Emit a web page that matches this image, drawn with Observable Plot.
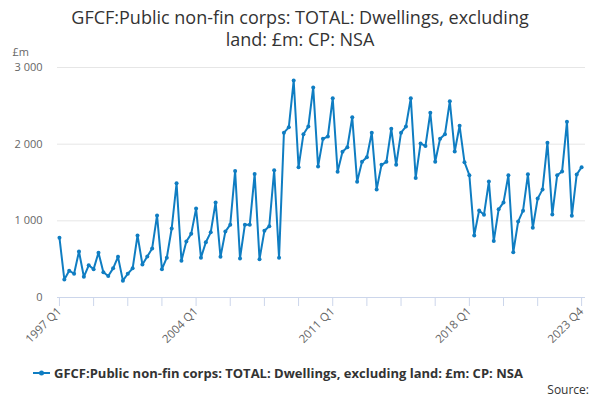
<!DOCTYPE html>
<html>
<head>
<meta charset="utf-8">
<script src="https://cdn.jsdelivr.net/npm/d3@7"></script>
<script src="https://cdn.jsdelivr.net/npm/@observablehq/plot@0.6"></script>
<style>
  body { margin: 0; background: #fff; font-family: "Open Sans", sans-serif; }
  #wrap { position: relative; width: 600px; height: 400px; overflow: hidden; }
  #title { position: absolute; left: 0; top: 6px; width: 600px; text-align: center; font-size: 18px; line-height: 22px; color: #333; }
  #chart { position: absolute; left: 0; top: 40px; }
  #legend { position: absolute; left: 33px; top: 365px; height: 16px; display: flex; align-items: center; font-size: 13px; font-weight: bold; color: #333; white-space: nowrap; }
  #legend svg { margin-right: 4px; }
  #source { position: absolute; right: 11px; top: 382px; font-size: 12px; line-height: 16px; color: #333; }
</style>
</head>
<body>
<div id="wrap">
  <div id="title">GFCF:Public non-fin corps: TOTAL: Dwellings, excluding<br>land: £m: CP: NSA</div>
  <div id="chart"></div>
  <div id="legend"><svg width="17" height="10"><line x1="0" x2="17" y1="5" y2="5" stroke="#0f7dc2" stroke-width="2"></line><circle cx="8.5" cy="5" r="2.5" fill="#0f7dc2"></circle></svg><span>GFCF:Public non-fin corps: TOTAL: Dwellings, excluding land: £m: CP: NSA</span></div>
  <div id="source">Source:</div>
</div>
<script>
const startYear = 1997;
const values = [
  780, 235, 350, 310,
  600, 270, 420, 370,
  585, 330, 280, 380,
  530, 220, 310, 380,
  810, 430, 535, 640,
  1070, 370, 520, 900,
  1490, 480, 730, 830,
  1160, 520, 720, 850,
  1240, 530, 860, 950,
  1650, 510, 950, 950,
  1610, 500, 870, 930,
  1660, 520, 2150, 2220,
  2830, 1700, 2130, 2230,
  2740, 1710, 2070, 2100,
  2600, 1640, 1900, 1960,
  2350, 1510, 1770, 1830,
  2150, 1410, 1730, 1770,
  2200, 1730, 2150, 2230,
  2600, 1560, 2010, 1975,
  2410, 1770, 2070, 2130,
  2560, 1905, 2240, 1765,
  1595, 810, 1135, 1080,
  1512, 737, 1150, 1240,
  1595, 590, 990, 1133,
  1607, 910, 1290, 1410,
  2020, 1083, 1595, 1643,
  2292, 1065, 1605, 1700
];
const quarterLabels = values.map((v, i) => `${startYear + Math.floor(i / 4)} Q${(i % 4) + 1}`);
const tickIndices = [0, 7, 14, 21, 28, 35, 42, 49, 56, 63, 70, 77, 84, 91, 98, 107];
const labelledTicks = [0, 28, 56, 84, 107];
const yTicks = [0, 1000, 2000, 3000];

const data = values.map((v, i) => ({ i, label: quarterLabels[i], value: v }));
const color = "#0f7dc2";
const tickColor = "#ccd6eb";
const fmt = d => d3.format(",")(d).replace(/,/g, " ");

const H = 315, MT = 27, MB = 58, tickLen = 9;
const yMax = 3000;
const tickDepth = -yMax * tickLen / (H - MT - MB);

const chart = Plot.plot({
  width: 600,
  height: H,
  marginLeft: 57,
  marginRight: 15,
  marginTop: MT,
  marginBottom: MB,
  style: { fontFamily: "Open Sans, sans-serif", background: "transparent" },
  x: { type: "linear", domain: [-0.4, 107.8] },
  y: { domain: [0, yMax] },
  marks: [
    Plot.gridY(yTicks.filter(d => d > 0), { stroke: "#e6e6e6", strokeOpacity: 1 }),
    Plot.axisY(yTicks, { tickSize: 0, tickPadding: 15, tickFormat: fmt, fontSize: 11, fill: "#666", label: null }),
    Plot.ruleY([0], { stroke: tickColor }),
    Plot.ruleX(tickIndices, { x: d => d, y1: 0, y2: tickDepth, stroke: tickColor, strokeOpacity: 1 }),
    Plot.axisX(labelledTicks, {
      tickSize: 9, tickPadding: 3, tickRotate: -45, stroke: "none",
      tickFormat: d => quarterLabels[d],
      fontSize: 11.5, fill: "#666", label: null
    }),
    Plot.line(data, { x: "i", y: "value", stroke: color, strokeWidth: 2 }),
    Plot.dot(data, { x: "i", y: "value", r: 2, fill: color }),
    Plot.text(["£m"], { frameAnchor: "top-left", dx: -45, dy: -19, textAnchor: "start", fontSize: 11, fill: "#666" })
  ]
});
document.getElementById("chart").appendChild(chart);
</script>
</body>
</html>
